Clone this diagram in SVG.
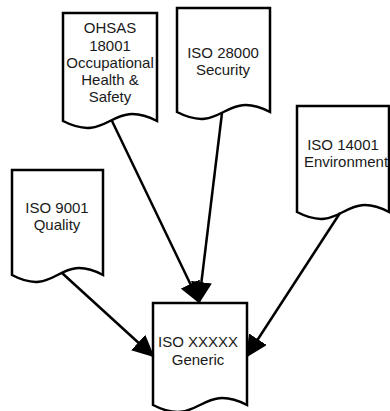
<svg xmlns="http://www.w3.org/2000/svg" width="390" height="411" viewBox="0 0 390 411">
  <style>
    .doc { fill: #ffffff; stroke: #000000; stroke-width: 2.5; stroke-linejoin: miter; }
    .lbl { font-family: "Liberation Sans", Arial, sans-serif; font-size: 15px; fill: #1a1a1a; text-anchor: middle; }
    .conn { fill: none; stroke: #000000; stroke-width: 2.5; marker-end: url(#head); }
  </style>
  <defs>
    <marker id="head" markerUnits="userSpaceOnUse" markerWidth="22" markerHeight="21" viewBox="0 0 22 21" refX="20" refY="10.5" orient="auto">
      <path d="M0,0 L22,10.5 L0,21 Z" fill="#000000"/>
    </marker>
  </defs>
  <rect width="390" height="411" fill="#ffffff"/>

  <!-- document-shaped nodes: straight top and sides, wavy bottom edge -->
  <g id="ohsas-18001">
    <path class="doc" d="M63,13 H157 V121 C110,97 110,145 63,121 Z"/>
    <text class="lbl" x="110" y="33">OHSAS</text>
    <text class="lbl" x="110" y="50.5">18001</text>
    <text class="lbl" x="110" y="68">Occupational</text>
    <text class="lbl" x="110" y="85">Health &amp;</text>
    <text class="lbl" x="110" y="102">Safety</text>
  </g>

  <g id="iso-28000">
    <path class="doc" d="M177,8 H270 V112 C223.5,88 223.5,136 177,112 Z"/>
    <text class="lbl" x="223" y="58">ISO 28000</text>
    <text class="lbl" x="223" y="75">Security</text>
  </g>

  <g id="iso-14001">
    <path class="doc" d="M297,106 H389 V212 C343,188 343,236 297,212 Z"/>
    <text class="lbl" x="343" y="150">ISO 14001</text>
    <text class="lbl" x="346" y="167">Environment</text>
  </g>

  <g id="iso-9001">
    <path class="doc" d="M12,170 H103 V275 C57.5,251 57.5,299 12,275 Z"/>
    <text class="lbl" x="57" y="213">ISO 9001</text>
    <text class="lbl" x="57" y="230">Quality</text>
  </g>

  <g id="iso-generic">
    <path class="doc" d="M153,303 H247 V405 C200,381 200,429 153,405 Z"/>
    <text class="lbl" x="198" y="347">ISO XXXXX</text>
    <text class="lbl" x="198" y="365">Generic</text>
  </g>

  <!-- connectors into the generic standard -->
  <g id="connectors">
    <path class="conn" d="M112,121 L199,302"/>
    <path class="conn" d="M222,113 L199,302"/>
    <path class="conn" d="M62,273 L153,356"/>
    <path class="conn" d="M340,213 L247,356"/>
  </g>
</svg>
